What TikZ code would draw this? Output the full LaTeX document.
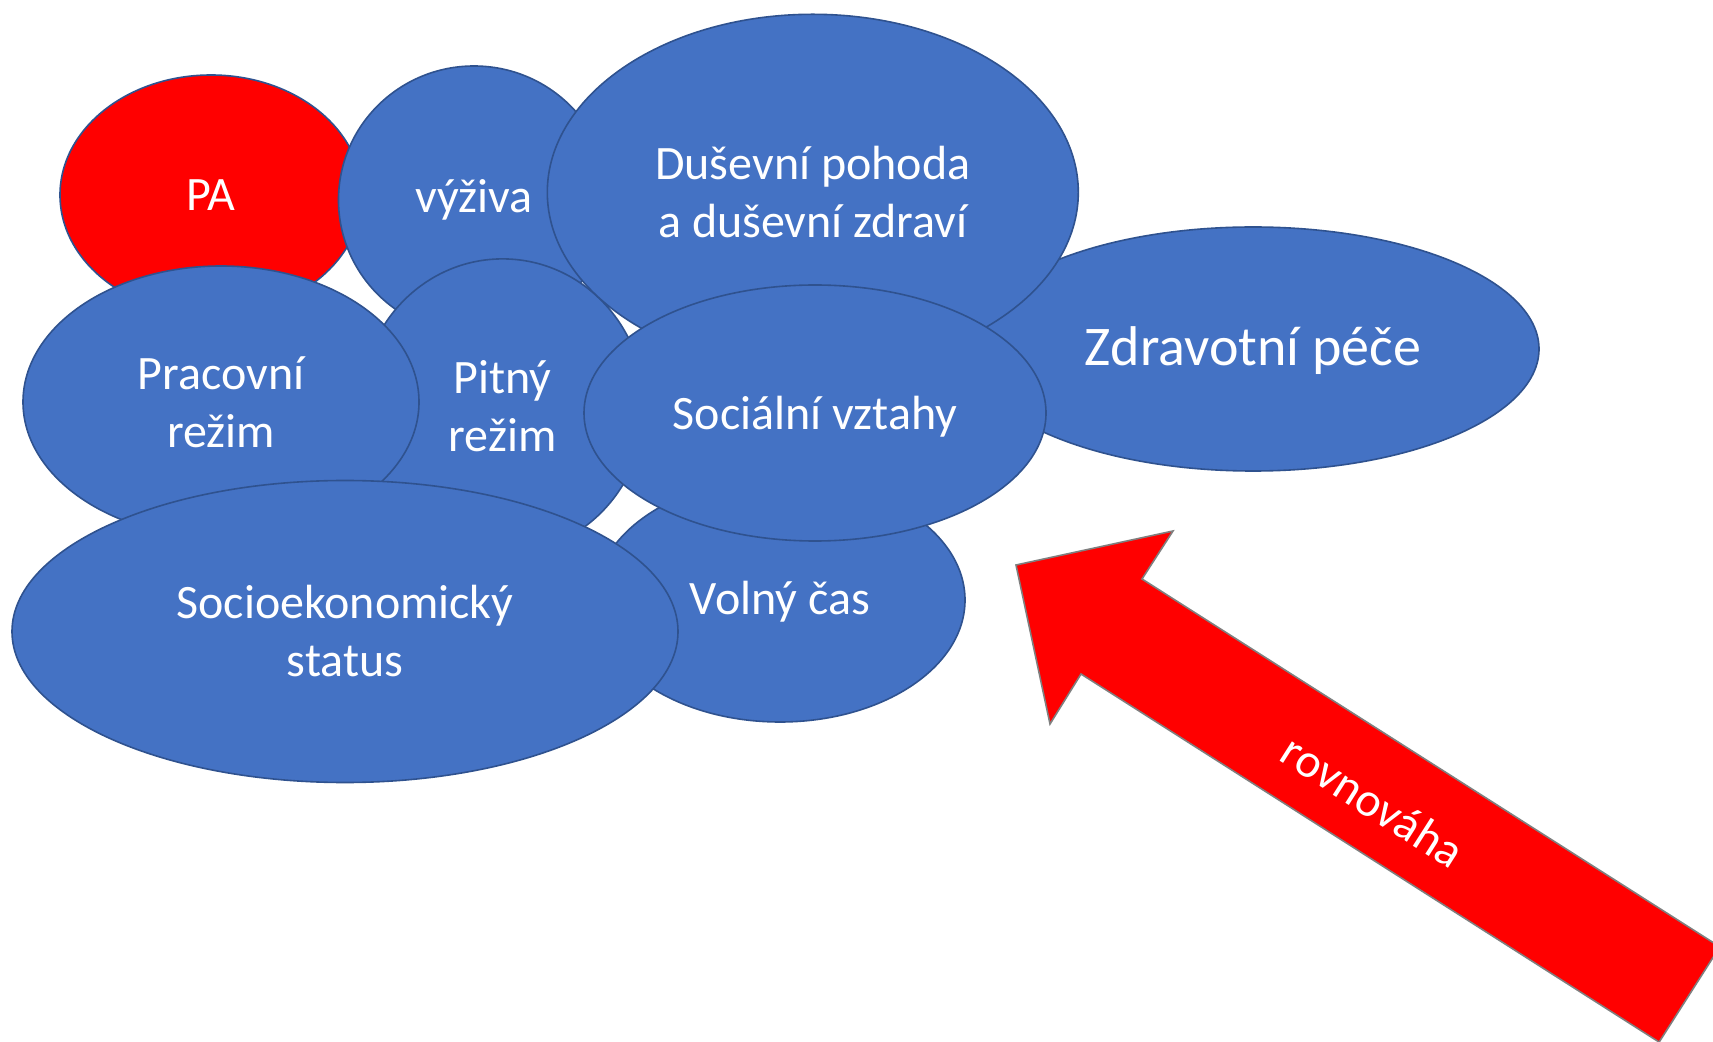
\documentclass[tikz,border=0pt]{standalone}
\usepackage{fontspec}
\setmainfont{Carlito}
\usetikzlibrary{shapes.geometric}
\definecolor{bubfill}{HTML}{4472C4}
\definecolor{bubline}{HTML}{2F528F}
\definecolor{arrline}{HTML}{7F7F7F}
\tikzset{
  bub/.style={ellipse, draw=bubline, fill=bubfill, line width=0.8pt, text=white,
    font=\fontsize{24}{29}\selectfont, align=center, inner sep=0pt},
  bigarrow/.style={fill=red, draw=arrline, line width=0.8pt, line join=miter},
}
\begin{document}
\begin{tikzpicture}[x=0.5pt, y=-0.5pt]
\clip (0,0) rectangle (1713,1042);
\useasboundingbox (0,0) rectangle (1713,1042);
\fill[white] (0,0) rectangle (1713,1042);
\node[bub, fill=red, minimum width=151pt, minimum height=120pt] (pa) at (211,195) {PA};
\node[bub, minimum width=135.5pt, minimum height=134pt] (vyz) at (474,200) {výživa};
\node[bub, minimum width=286pt, minimum height=122pt, font=\fontsize{28}{34}\selectfont, text depth=2.5pt] (zdr) at (1253,349) {Zdravotní péče};
\node[bub, minimum width=142pt, minimum height=147.5pt] (pit) at (502.6,406.4) {Pitný\\režim};
\node[bub, minimum width=265.5pt, minimum height=178pt] (dus) at (812.8,192.3) {Duševní pohoda\\a duševní zdraví};
\node[bub, minimum width=198pt, minimum height=136pt] (pra) at (221,402) {Pracovní\\režim};
\node[bub, minimum width=185pt, minimum height=122pt, text depth=2pt] (vol) at (780,600) {Volný čas};
\node[bub, minimum width=231pt, minimum height=128pt, text depth=0pt] (soc) at (815,413) {Sociální vztahy};
\node[bub, minimum width=333pt, minimum height=151pt] (ses) at (345,631.5) {Socioekonomický\\status};
% arrow
\coordinate (aA) at (1016,565);
\coordinate (aB) at (1173,531);
\coordinate (aC) at (1142,579);
\coordinate (aT1) at (1719.8,946.8);
\coordinate (aT2) at (1659.1,1042.1);
\coordinate (aE) at (1081,674);
\coordinate (aF) at (1050,724);
\draw[bigarrow] (aA) -- (aB) -- (aC) -- (aT1) -- (aT2) -- (aE) -- (aF) -- cycle;
\node[text=white, font=\fontsize{24}{29}\selectfont, rotate=-32.5, inner sep=0pt] (rov) at (1373,801) {rovnováha};
\end{tikzpicture}
\end{document}
